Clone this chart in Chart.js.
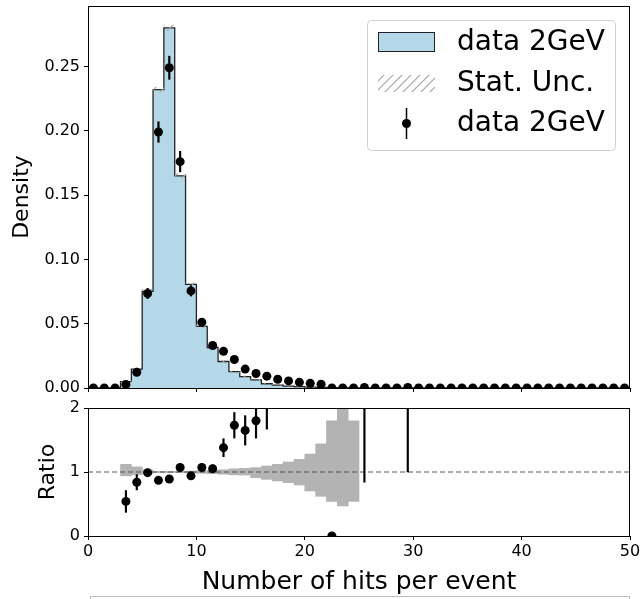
<!DOCTYPE html>
<html>
<head>
<meta charset="utf-8">
<script src="https://cdn.jsdelivr.net/npm/chart.js@4.4.1/dist/chart.umd.min.js"></script>
<style>
html,body{margin:0;padding:0;background:#fff;}
#wrap{position:relative;width:641px;height:599px;overflow:hidden;}
#topChart{position:absolute;left:0;top:0;}
#ratioChart{position:absolute;left:0;top:400px;}
</style>
</head>
<body>
<div id="wrap">
<canvas id="topChart" width="641" height="400"></canvas>
<canvas id="ratioChart" width="641" height="199"></canvas>
</div>
<script>

// =======================================
// DATA (bins of width 1, from 0 to 50)
// =======================================

let histVals=[0,0,0,0.005,0.0146,0.0752,0.232,0.280,0.165,0.0805,
0.0479,0.0315,0.0206,0.0128,0.0089,0.0063,0.0033,0.0023,0.0015,0.0010,
0.0007,0.0004,0.0003,0.0001,0.0002,0,0,0,0,0,
0,0,0,0,0,0,0,0,0,0,
0,0,0,0,0,0,0,0,0,0];

let histErr=[0,0,0,0.0008,0.001,0.0015,0.002,0.0022,0.0017,0.0012,
0.001,0.0008,0.0006,0.0005,0.0004,0.0003,0.0002,0.0002,0.0001,0.0001,
0,0,0,0,0,0,0,0,0,0,
0,0,0,0,0,0,0,0,0,0,
0,0,0,0,0,0,0,0,0,0];

let dataVals=[0,0,0,0.0027,0.0122,0.0735,0.199,0.249,0.176,0.0755,
0.0512,0.033,0.0285,0.0222,0.0147,0.0113,0.0092,0.0068,0.0055,0.0044,
0.0036,0.0029,0,0,0,0.0004,0,0,0,0.0004,
0,0,0,0,0,0,0,0,0,0,
0,0,0,0,0,0,0,0,0,0];

let dataErr=[0,0,0,0.001,0.0015,0.004,0.008,0.009,0.008,0.004,
0.003,0.002,0.002,0.002,0.0015,0.0013,0.0012,0.001,0.001,0.0008,
0.0008,0.0007,0,0,0,0.0004,0,0,0,0.0004,
0,0,0,0,0,0,0,0,0,0,
0,0,0,0,0,0,0,0,0,0];

let ratioX=[3.5,4.5,5.5,6.5,7.5,8.5,9.5,10.5,11.5,12.5,13.5,14.5,15.5,16.5,22.5,25.5,29.5];
let ratioVal=[0.54,0.84,0.99,0.87,0.89,1.07,0.94,1.07,1.05,1.38,1.73,1.65,1.80,2.9,0,3.0,3.0];
let ratioErr=[0.17,0.12,0.04,0.03,0.03,0.04,0.03,0.05,0.06,0.14,0.2,0.23,0.27,1.23,0,2.16,2.0];

let bandX=[3.5,4.5,5.5,6.5,7.5,8.5,9.5,10.5,11.5,12.5,13.5,
14.5,15.5,16.5,17.5,18.5,19.5,20.5,21.5,22.5,23.5,24.5];
let bandUp=[1.12,1.08,1.03,1.01,1.01,1.01,1.015,1.02,1.025,1.035,1.05,
1.057,1.068,1.094,1.12,1.156,1.198,1.28,1.44,1.8,2.3,1.8];
let bandLo=[0.94,0.96,0.98,0.99,0.99,0.99,0.985,0.98,0.975,0.965,0.955,
0.953,0.911,0.885,0.86,0.833,0.797,0.703,0.62,0.54,0.47,0.54];

let xTicksMax=50;


// =======================================
// HELPERS
// =======================================

Chart.defaults.font.family="'DejaVu Sans', sans-serif";
Chart.defaults.color="#000";

let blue="#b5d8e9";

function hatchPattern(){
let c=document.createElement("canvas");
c.width=9;c.height=9;
let g=c.getContext("2d");
g.strokeStyle="#a6a6a6";
g.lineWidth=1.2;
g.beginPath();
g.moveTo(0,9);g.lineTo(9,0);
g.moveTo(-1,1);g.lineTo(1,-1);
g.moveTo(8,10);g.lineTo(10,8);
g.stroke();
return g.createPattern(c,"repeat");
}

let hatch=hatchPattern();

let frame={
id:"frame",
afterDatasetsDraw(chart){
let a=chart.chartArea,ctx=chart.ctx;
ctx.save();
ctx.strokeStyle="#000";
ctx.lineWidth=1;
ctx.strokeRect(Math.round(a.left)+0.5,Math.round(a.top)+0.5,Math.round(a.right-a.left)-1,Math.round(a.bottom-a.top));
ctx.restore();
}
};

function tickAxis(){
return {
border:{display:true,color:"#000",width:1},
grid:{drawOnChartArea:false,drawTicks:true,tickLength:4,tickColor:"#000",offset:false}
};
}

function noPad(s){
s.paddingTop=0;s.paddingBottom=0;s.paddingLeft=0;s.paddingRight=0;
}


// =======================================
// TOP PANEL: HISTOGRAM + DATA POINTS
// =======================================

let centers=histVals.map((v,i)=>i+0.5);

let histStep=histVals.map((v,i)=>({x:i,y:v}));
histStep.push({x:xTicksMax,y:0});

let hatchBars=[];
histVals.forEach((v,i)=>{
if(v>0) hatchBars.push({x:centers[i],y:[v-histErr[i],v+histErr[i]]});
});

let errBars=[];
dataVals.forEach((v,i)=>{
if(dataErr[i]>0) errBars.push({x:centers[i],y:[v-dataErr[i],v+dataErr[i]]});
});

let legendBox={
id:"legendBox",
afterDraw(chart){
let ctx=chart.ctx;
ctx.save();
ctx.beginPath();
ctx.roundRect(367.5,20.5,248,130,4);
ctx.fillStyle="rgba(255,255,255,0.8)";
ctx.fill();
ctx.strokeStyle="#d0d0d0";
ctx.lineWidth=1;
ctx.stroke();

ctx.fillStyle=blue;
ctx.fillRect(378,32,57,19);
ctx.strokeStyle="#222";
ctx.strokeRect(378.5,32.5,56,19);

ctx.fillStyle=hatch;
ctx.fillRect(378,75,57,17);

ctx.strokeStyle="#000";
ctx.lineWidth=1.5;
ctx.beginPath();
ctx.moveTo(406.5,108);ctx.lineTo(406.5,139);
ctx.stroke();
ctx.fillStyle="#000";
ctx.beginPath();
ctx.arc(406.5,123.5,4.5,0,Math.PI*2);
ctx.fill();

ctx.font="28px 'DejaVu Sans'";
ctx.textBaseline="middle";
ctx.fillText("data 2GeV",457,43);
ctx.fillText("Stat. Unc.",457,84);
ctx.fillText("data 2GeV",457,124);
ctx.restore();
}
};

let topX=tickAxis();
topX.type="linear";topX.min=0;topX.max=xTicksMax;topX.offset=false;
topX.ticks={stepSize:10,display:false};
topX.afterFit=s=>{s.height=12;noPad(s);};

let topY=tickAxis();
topY.min=0;topY.max=0.297;
topY.ticks={stepSize:0.05,includeBounds:false,padding:4,font:{size:16},callback:v=>v.toFixed(2)};
topY.title={display:true,text:"Density",font:{size:22},padding:{top:9,bottom:0}};
topY.afterFit=s=>{s.width=88;noPad(s);};

new Chart(document.getElementById("topChart"),{
type:"scatter",
data:{
datasets:[
{type:"line",data:histStep,stepped:"before",fill:"origin",backgroundColor:blue,
borderColor:"#222",borderWidth:1.3,pointRadius:0,order:5},
{type:"bar",data:hatchBars,backgroundColor:hatch,borderWidth:0,grouped:false,
barPercentage:1,categoryPercentage:1,order:4},
{type:"bar",data:errBars,backgroundColor:"#000",borderWidth:0,grouped:false,
barThickness:1.5,order:2},
{type:"scatter",data:dataVals.map((v,i)=>({x:centers[i],y:v})),pointRadius:4.5,
backgroundColor:"#000",borderWidth:0,clip:0,order:1}
]
},
options:{
responsive:false,animation:false,
layout:{padding:{left:0,right:11,top:6,bottom:0}},
plugins:{legend:{display:false},tooltip:{enabled:false}},
scales:{x:topX,y:topY}
},
plugins:[frame,legendBox]
});


// =======================================
// BOTTOM PANEL: RATIO
// =======================================

let ratioBars=[];
ratioX.forEach((x,i)=>{
if(ratioErr[i]>0) ratioBars.push({x:x,y:[ratioVal[i]-ratioErr[i],ratioVal[i]+ratioErr[i]]});
});

let lowerBox={
id:"lowerBox",
afterDraw(chart){
let ctx=chart.ctx;
ctx.save();
ctx.strokeStyle="#bdbdbd";
ctx.lineWidth=1;
ctx.strokeRect(90.5,196.5,539,20);
ctx.restore();
}
};

let botX=tickAxis();
botX.type="linear";botX.min=0;botX.max=xTicksMax;botX.offset=false;
botX.ticks={stepSize:10,padding:2,font:{size:16}};
botX.title={display:true,text:"Number of hits per event",font:{size:25},padding:{top:0,bottom:2}};
botX.afterFit=s=>{s.height=63;noPad(s);};

let botY=tickAxis();
botY.min=0;botY.max=2;
botY.ticks={stepSize:1,padding:4,font:{size:16}};
botY.title={display:true,text:"Ratio",font:{size:22},padding:{top:35,bottom:0}};
botY.afterFit=s=>{s.width=88;noPad(s);};

new Chart(document.getElementById("ratioChart"),{
type:"scatter",
data:{
datasets:[
{type:"bar",data:bandX.map((x,i)=>({x:x,y:[bandLo[i],bandUp[i]]})),backgroundColor:"#b3b3b3",
borderWidth:0,grouped:false,barPercentage:1,categoryPercentage:1,order:5},
{type:"line",data:[{x:0,y:1},{x:xTicksMax,y:1}],borderColor:"#555",borderWidth:1,
borderDash:[5,3],pointRadius:0,order:4},
{type:"bar",data:ratioBars,backgroundColor:"#000",borderWidth:0,grouped:false,
barThickness:1.5,order:2},
{type:"scatter",data:ratioX.map((x,i)=>({x:x,y:ratioVal[i]})),pointRadius:4.5,
backgroundColor:"#000",borderWidth:0,clip:0,order:1}
]
},
options:{
responsive:false,animation:false,
layout:{padding:{left:0,right:11,top:8,bottom:0}},
plugins:{legend:{display:false},tooltip:{enabled:false}},
scales:{x:botX,y:botY}
},
plugins:[frame,lowerBox]
});

</script>
</body>
</html>
